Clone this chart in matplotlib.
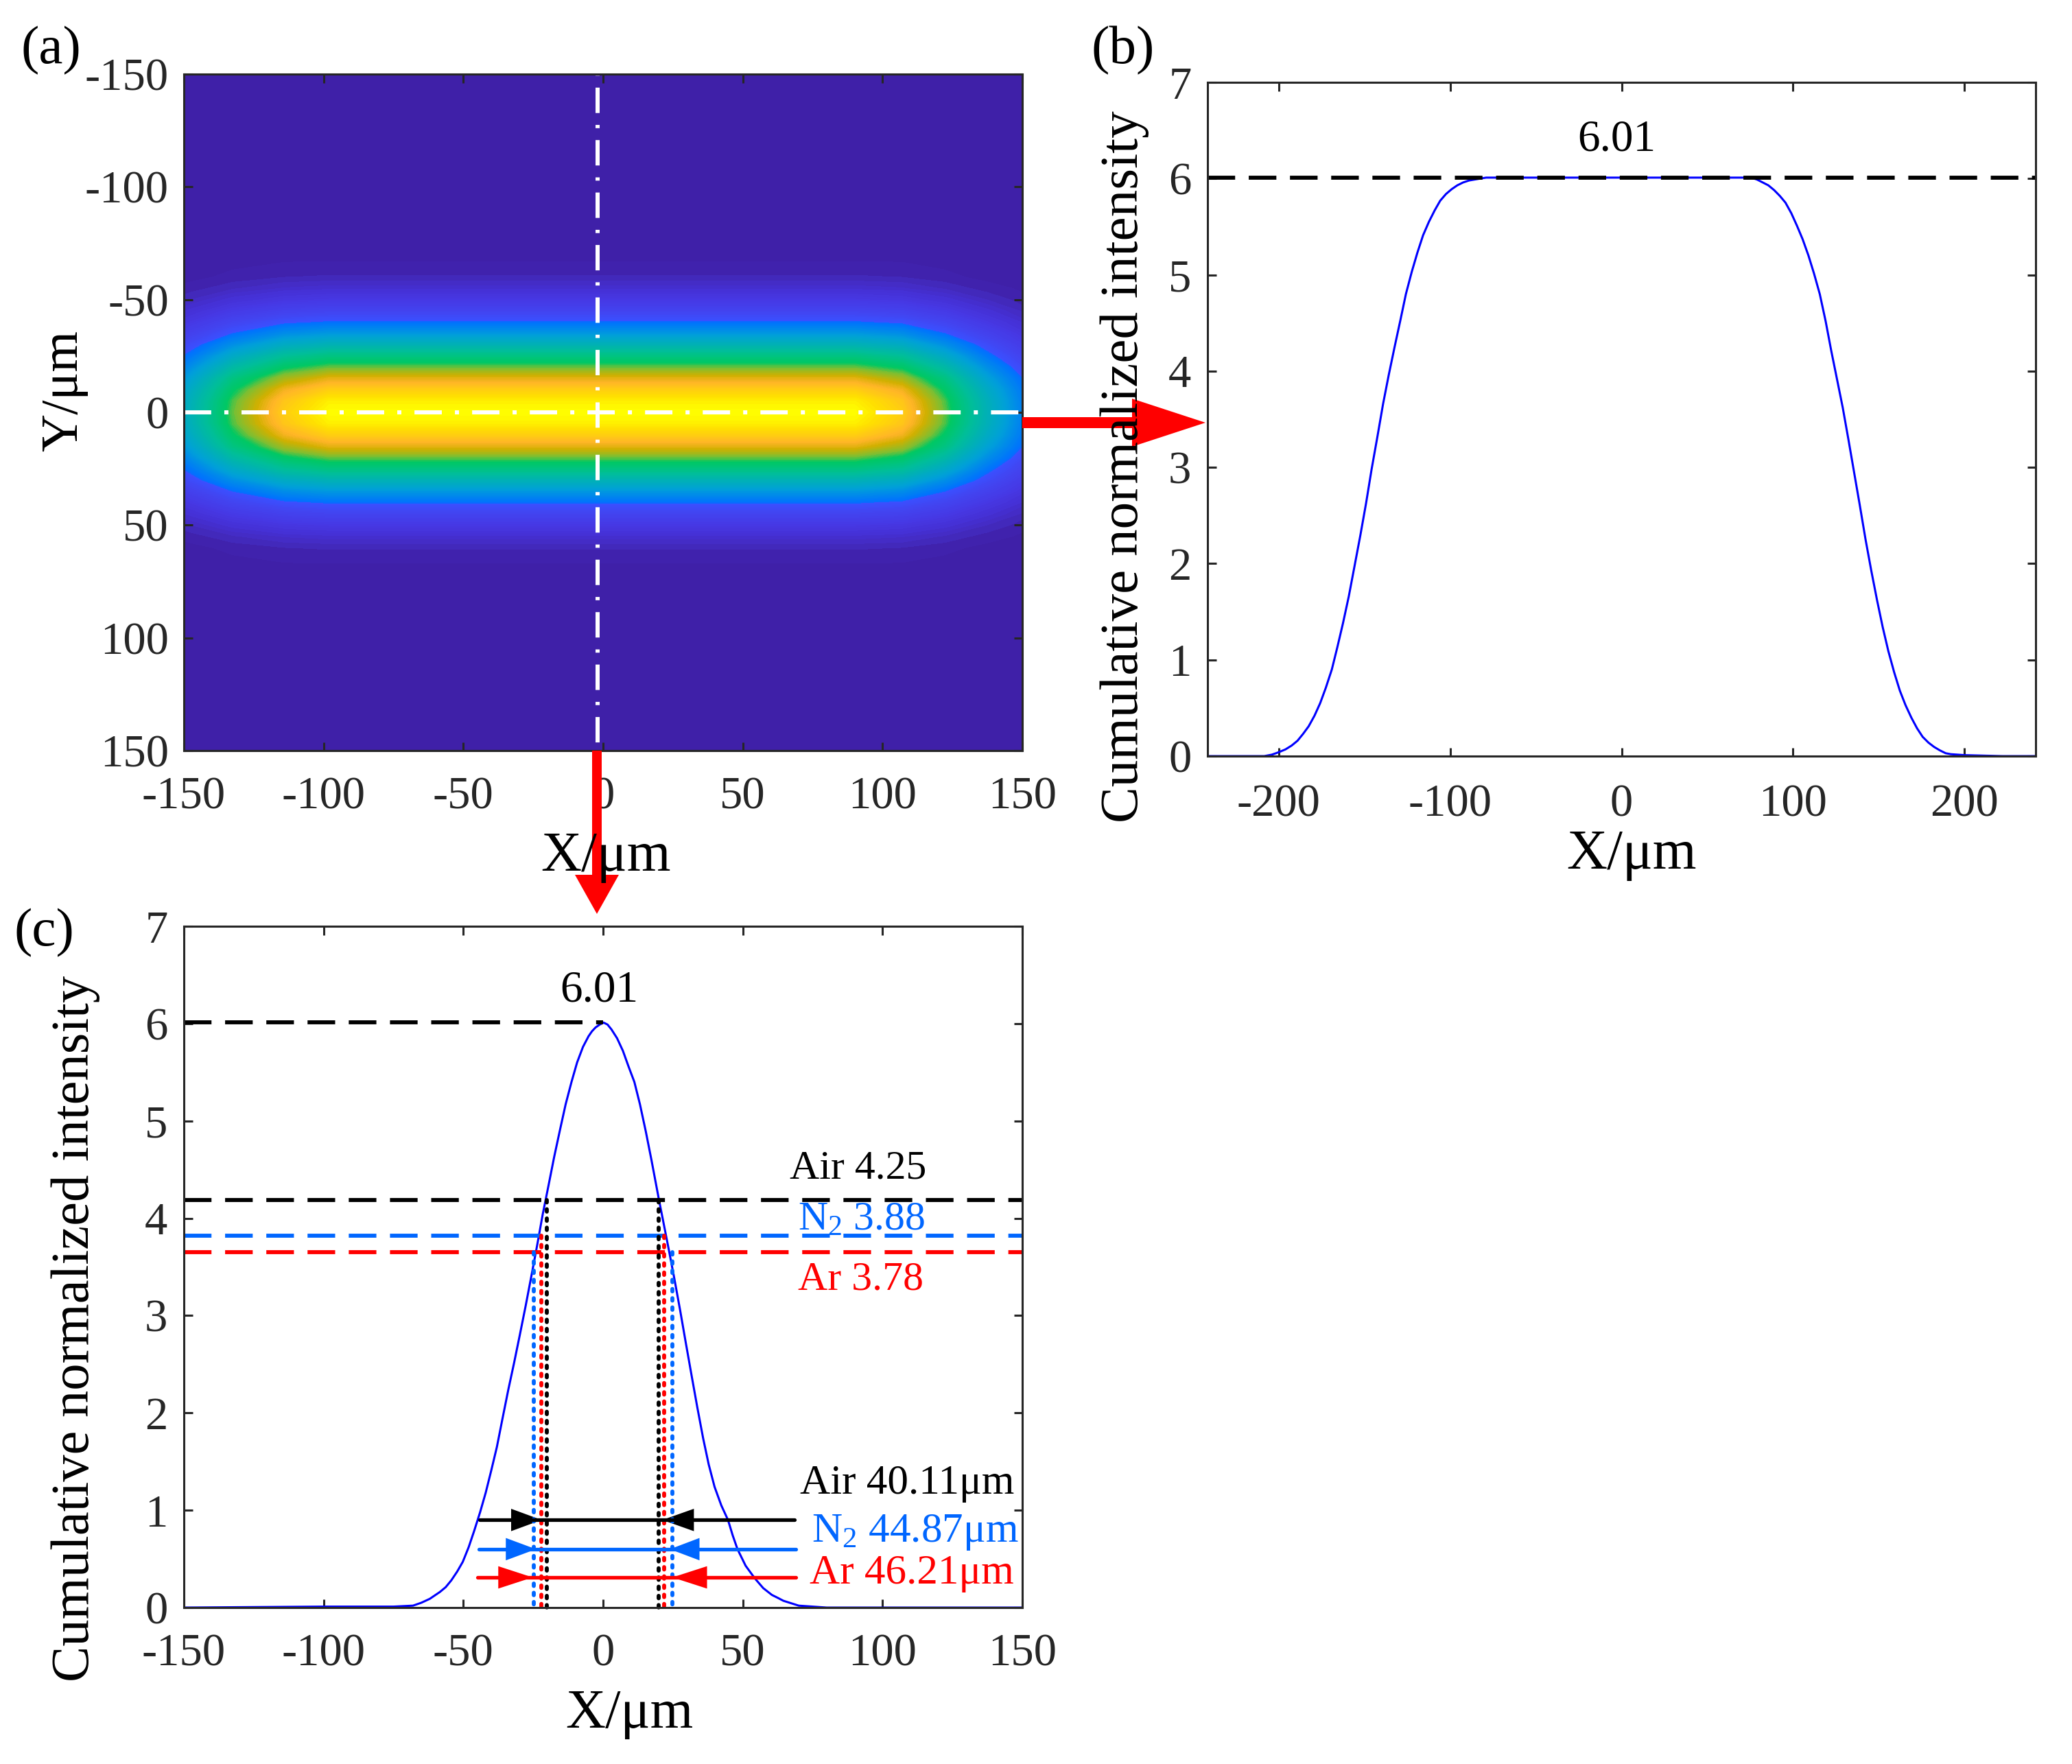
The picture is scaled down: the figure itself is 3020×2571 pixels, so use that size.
import numpy as np
import matplotlib
matplotlib.use("Agg")
import matplotlib.pyplot as plt
from matplotlib.colors import LinearSegmentedColormap

plt.rcParams['font.family'] = ['Liberation Serif', 'DejaVu Serif']
plt.rcParams['mathtext.fontset'] = 'custom'
plt.rcParams['mathtext.rm'] = 'Liberation Serif'
plt.rcParams['mathtext.default'] = 'rm'
plt.rcParams['axes.unicode_minus'] = False

# ======================================================================
# Data
# ======================================================================
# (a) intensity map, one half of the spot: rows are |y|, columns run from the
# flat middle outwards, to the left and to the right
map_y = [0, 5, 10, 15, 20, 25, 30, 35, 40, 45, 50, 55, 60, 70, 150]
map_x_left = [-192, -177, -162, -147.5, -132.5, -114, -98]
map_x_right = [90, 107, 122.3, 137.3, 153, 167, 182]
map_half = [
    [6.00, 5.45, 4.22, 2.80, 1.42, 0.55, 0.12],
    [5.85, 5.33, 4.15, 2.74, 1.39, 0.54, 0.12],
    [5.45, 5.00, 3.92, 2.56, 1.31, 0.49, 0.11],
    [4.90, 4.49, 3.60, 2.27, 1.18, 0.42, 0.10],
    [4.22, 3.92, 3.07, 1.91, 0.98, 0.33, 0.07],
    [3.60, 3.30, 2.50, 1.53, 0.78, 0.24, 0.05],
    [2.80, 2.56, 1.91, 1.20, 0.55, 0.17, 0.03],
    [2.05, 1.87, 1.39, 0.86, 0.37, 0.10, 0.02],
    [1.42, 1.31, 0.98, 0.55, 0.22, 0.06, 0.01],
    [0.95, 0.86, 0.61, 0.32, 0.12, 0.03, 0.01],
    [0.55, 0.49, 0.33, 0.17, 0.06, 0.02, 0.00],
    [0.27, 0.24, 0.16, 0.08, 0.03, 0.01, 0.00],
    [0.12, 0.11, 0.07, 0.03, 0.01, 0.00, 0.00],
    [0.02, 0.02, 0.01, 0.01, 0.00, 0.00, 0.00],
    [0.00, 0.00, 0.00, 0.00, 0.00, 0.00, 0.00],
]
map_cross_x = -2

# (b) profile along x
b_x = [-241.5, -208.4, -204, -200, -196, -192.4, -189, -185.8, -182.5, -179.1, -175.8, -172.5,
       -169, -165.8, -162.5, -159.1, -155.8, -152.4, -149, -145.8, -142.4, -139.1, -135.8,
       -132.4, -129, -125.8, -122.4, -119.1, -115.8, -112.4, -109, -105.8, -102.4, -99.1,
       -95.8, -92.4, -89, -85.8, -79, 0, 75.6, 79, 82.3, 85.6, 89, 92.3, 95.6, 99, 102.3,
       105.6, 109, 112.3, 115.6, 119, 122.3, 125.6, 129, 132.3, 135.6, 139, 142.3, 145.6,
       149, 152.3, 155.6, 159, 162.3, 165.6, 169, 172.3, 175.6, 179, 182.3, 185.6, 189,
       192, 200, 222, 241.5]
b_y = [0, 0, 0.015, 0.04, 0.07, 0.11, 0.16, 0.23, 0.31, 0.42, 0.55, 0.71,
       0.90, 1.13, 1.38, 1.66, 1.97, 2.29, 2.63, 2.98, 3.32, 3.66, 3.96,
       4.25, 4.53, 4.80, 5.03, 5.23, 5.41, 5.55, 5.67, 5.77, 5.84, 5.89,
       5.93, 5.96, 5.98, 5.99, 6.01, 6.01, 6.01, 5.99, 5.96, 5.93, 5.88, 5.82, 5.75, 5.64, 5.51,
       5.37, 5.20, 5.01, 4.80, 4.52, 4.21, 3.92, 3.62, 3.29, 2.95, 2.60, 2.25, 1.93,
       1.62, 1.34, 1.09, 0.87, 0.68, 0.53, 0.40, 0.29, 0.20, 0.14, 0.095, 0.06, 0.03,
       0.02, 0.01, 0, 0]

# (c) profile along y
c_x = [-150, -100, -75, -68, -65, -62, -58.4, -56.3, -54.3, -52.2, -50.2, -48.1, -46.1, -44, -42,
       -40, -38, -36, -33.9, -31.8, -29.8, -27.7, -25.7, -23.6, -21.6, -19.5, -17.5, -15.4,
       -13.4, -11.3, -9.3, -7.2, -5.2, -4, -2.7, -1.2, 0.2, 1.6, 3, 5, 7.1, 9.1, 11.2, 13.2,
       15.3, 17.3, 20, 23.5, 25.5, 27.6, 29.6, 31.7, 33.7, 35.8, 37.8, 39.9, 42.3,
       44.7, 46.4, 48.1, 51, 54.3, 57.3, 60.4, 62.5, 64.5, 70, 80, 150]
c_y = [0, 0.01, 0.01, 0.02, 0.05, 0.09, 0.16, 0.21, 0.28, 0.37, 0.47, 0.62, 0.79, 0.98, 1.18,
       1.41, 1.65, 1.94, 2.24, 2.52, 2.80, 3.10, 3.40, 3.72, 4.04, 4.34, 4.63, 4.91,
       5.17, 5.40, 5.60, 5.76, 5.87, 5.92, 5.96, 5.99, 6.01, 5.99, 5.94, 5.85, 5.72, 5.56, 5.40, 5.17,
       4.89, 4.60, 4.19, 3.68, 3.38, 3.05, 2.72, 2.38, 2.06, 1.74, 1.47, 1.24, 1.05,
       0.90, 0.74, 0.60, 0.43, 0.30, 0.20, 0.13, 0.10, 0.07, 0.02, 0, 0]

peak_level = 6.01
gases = ['Air', 'N2', 'Ar']
gas_colors = ['black', '#0066FF', '#FF0000']
level_y = [4.19, 3.82, 3.65]
edge_left = [-20.2, -24.9, -22]
edge_right = [20, 24.7, 21.9]
edge_top = [4.19, 3.65, 3.82]
arrow_y = [0.90, 0.60, 0.31]
arrow_start = [-44.1, -44.5, -44.9]
arrow_end = [68.4, 69, 69]
head_base_left = [-32.9, -34.8, -37.5]
head_tip_left = [-22, -24, -25.2]
head_tip_right = [21.2, 23.9, 24.8]
head_base_right = [32.5, 34.5, 37.2]

W, H = 3020, 2571
TICK_COLOR = '#262626'
DASHED = (0, (6.9, 3.4))
CURVE_LW = 2.2
THICK_LW = 4.2


def box(left, top, right, bottom):
    return [left / W, 1 - bottom / H, (right - left) / W, (bottom - top) / H]


def style(ax, xticks, yticks, padx, pady):
    ax.set_xticks(xticks)
    ax.set_yticks(yticks)
    ax.tick_params(axis='x', direction='in', length=9, width=2.2, top=True, bottom=True,
                   labelsize=48, pad=padx, colors=TICK_COLOR)
    ax.tick_params(axis='y', direction='in', length=9, width=2.2, left=True, right=True,
                   labelsize=48, pad=pady, colors=TICK_COLOR)
    for s in ax.spines.values():
        s.set_linewidth(2.2)
        s.set_color(TICK_COLOR)


def ftext(x, y, s, **kw):
    fig.text(x / W, 1 - y / H, s, **kw)


fig = plt.figure(figsize=(W / 100, H / 100), dpi=100, facecolor='white')

# %%
# (a) map
ax = fig.add_axes(box(268, 108, 1490, 1094))
cmap = LinearSegmentedColormap.from_list('spot', [
    (0.0, '#3F20A8'), (0.05 / 6.01, '#3F20A8'), (0.12 / 6.01, '#4228B8'), (0.3 / 6.01, '#4530D4'),
    (0.55 / 6.01, '#4638E4'), (1.0 / 6.01, '#4244F0'), (1.38 / 6.01, '#3A50FF'), (1.42 / 6.01, '#0070FF'),
    (2.2 / 6.01, '#00A0D8'), (3.3 / 6.01, '#00BE98'), (3.98 / 6.01, '#00C864'), (4.3 / 6.01, '#80BE30'),
    (4.75 / 6.01, '#D0B000'), (5.1 / 6.01, '#FFB428'), (5.7 / 6.01, '#FFE000'), (1.0, '#FFFF00')])
half = np.array(map_half)
z = np.hstack([half[:, ::-1], half])
z = np.vstack([z[:0:-1], z])
gx = np.array(map_x_left + map_x_right)
gy = np.array(map_y, dtype=float)
gy = np.concatenate([-gy[:0:-1], gy])
ax.contourf(gx, gy, z, levels=np.linspace(-0.01, 6.02, 100), cmap=cmap)
ax.plot([-150, 150], [0, 0], c='white', lw=4.3, ls=(0, (6.67, 3.2, 1, 3.2)))
ax.plot([map_cross_x, map_cross_x], [-150, 150], c='white', lw=4.3, ls=(9.5, (6.2, 2.9, 0.8, 2.9)))
ax.set_xlim(-150, 150)
ax.set_ylim(150, -150)
style(ax, np.arange(-150, 151, 50), np.arange(-150, 151, 50), 27, 16)

# %%
# (b) x profile
ax = fig.add_axes(box(1760, 120, 2967, 1102))
ax.plot(b_x, b_y, c='#0000FF', lw=CURVE_LW)
ax.plot([-241.5, 241.5], [peak_level, peak_level], c='k', lw=THICK_LW, ls=DASHED)
ax.text(-3, 6.29, '6.01', fontsize=47, ha='center', va='baseline')
ax.set_xlim(-241.5, 241.5)
ax.set_ylim(0, 7)
style(ax, [-200, -100, 0, 100, 200], range(8), 29, 17)

# %%
# (c) y profile with widths
ax = fig.add_axes(box(268, 1350, 1490, 2343))
ax.plot(c_x, c_y, c='#0000FF', lw=CURVE_LW)
ax.plot([-150, 0], [peak_level, peak_level], c='k', lw=THICK_LW, ls=DASHED)
for i in range(3):
    ax.plot([-150, 150], [level_y[i], level_y[i]], c=gas_colors[i], lw=THICK_LW, ls=DASHED)
for i in range(3):
    for xv in (edge_left[i], edge_right[i]):
        ax.plot([xv, xv], [edge_top[i], -0.01], c=gas_colors[i], lw=THICK_LW,
                ls=(0, (0.6, 1.7)), dash_capstyle='round', clip_on=False)
for i in range(3):
    col = gas_colors[i]
    ax.plot([arrow_start[i], arrow_end[i]], [arrow_y[i], arrow_y[i]], c=col, lw=3.8,
            solid_capstyle='round')
    ax.fill([head_base_left[i], head_tip_left[i], head_base_left[i]],
            [arrow_y[i] - 0.115, arrow_y[i], arrow_y[i] + 0.115], c=col, lw=0)
    ax.fill([head_base_right[i], head_tip_right[i], head_base_right[i]],
            [arrow_y[i] - 0.115, arrow_y[i], arrow_y[i] + 0.115], c=col, lw=0)
ax.text(-1.4, 6.23, '6.01', fontsize=47, ha='center', va='baseline')
ax.text(66.7, 4.41, 'Air 4.25', fontsize=43, color='black', va='baseline')
ax.text(69.8, 3.88, 'N$_2$ 3.88', fontsize=43, color=gas_colors[1], va='baseline')
ax.text(69.8, 3.27, 'Ar 3.78', fontsize=43, color=gas_colors[2], va='baseline')
ax.text(70.4, 1.17, 'Air 40.11\u03bcm', fontsize=44, color='black', va='baseline')
ax.text(74.7, 0.68, 'N$_2$ 44.87\u03bcm', fontsize=44, color=gas_colors[1], va='baseline')
ax.text(74, 0.25, 'Ar 46.21\u03bcm', fontsize=44, color=gas_colors[2], va='baseline')
ax.set_xlim(-150, 150)
ax.set_ylim(0, 7)
style(ax, np.arange(-150, 151, 50), range(8), 27, 17)

# %%
# Labels
ftext(31, 92, '(a)', fontsize=57)
ftext(1590, 92, '(b)', fontsize=57)
ftext(20, 1378, '(c)', fontsize=57)
ftext(883, 1269, 'X/\u03bcm', fontsize=59, ha='center', va='baseline')
ftext(2378, 1266, 'X/\u03bcm', fontsize=59, ha='center', va='baseline')
ftext(917, 2518, 'X/\u03bcm', fontsize=58, ha='center', va='baseline')
ftext(94, 569, 'Y/\u03bcm', fontsize=55, rotation=90, ha='center', va='center')
ftext(1639, 680, 'Cumulative normalized intensity', fontsize=57, rotation=90, ha='center', va='center')
ftext(110, 1936, 'Cumulative normalized intensity', fontsize=56.5, rotation=90, ha='center', va='center')

# %%
# Red arrows joining the panels, drawn in image pixels on top of everything
over = fig.add_axes([0, 0, 1, 1], facecolor='none')
over.set_xlim(0, W)
over.set_ylim(H, 0)
over.axis('off')
over.fill([1490, 1650, 1650, 1757, 1650, 1650, 1490],
          [608, 608, 581, 616, 651, 624, 624], c='#FF0000', lw=0)
over.fill([863, 863, 838, 870, 902, 877, 877],
          [1094, 1275, 1275, 1332, 1275, 1275, 1094], c='#FF0000', lw=0)

plt.savefig('out.png', dpi=100)
